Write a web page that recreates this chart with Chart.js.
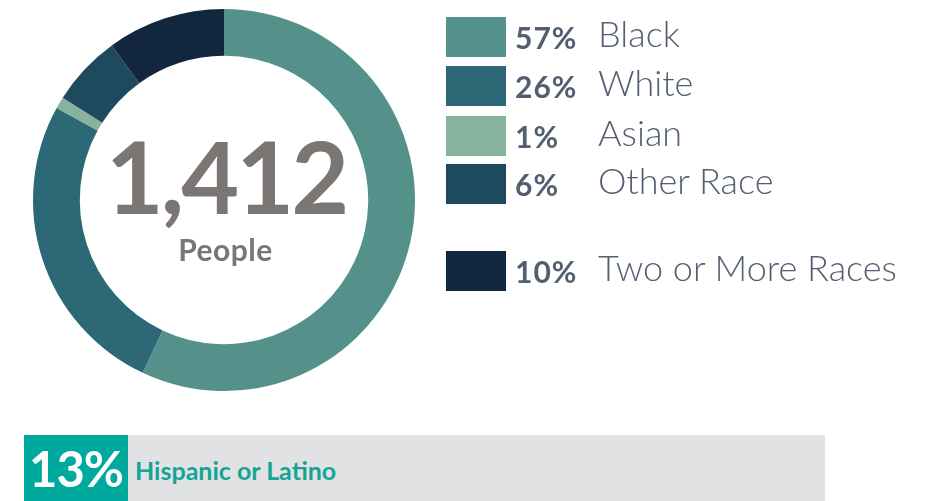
<!DOCTYPE html>
<html>
<head>
<meta charset="utf-8">
<script src="https://cdn.jsdelivr.net/npm/chart.js@4.4.0/dist/chart.umd.min.js"></script>
<style>
  html, body { margin: 0; padding: 0; background: #fff; }
  body { width: 934px; height: 501px; position: relative; overflow: hidden; font-family: Lato, "Open Sans", sans-serif; }
  #chart-wrap { position: absolute; left: 0; top: 0; width: 448px; height: 400px; }
  #center-total { position: absolute; left: 2px; width: 448px; top: 125px; text-align: center; font-size: 100px; font-weight: 700; color: #7b7673; line-height: 1; letter-spacing: -3px; }
  #center-label { position: absolute; left: 0; width: 451px; top: 234px; text-align: center; font-size: 30px; font-weight: 700; color: #7b7673; line-height: 1; letter-spacing: 0.5px; }
  .leg-row { position: absolute; left: 446px; height: 40px; }
  .leg-box { position: absolute; left: 0; top: 0; width: 60px; height: 40px; }
  .leg-pct { position: absolute; left: 69px; top: 5px; font-size: 30px; font-weight: 700; color: #545e71; line-height: 1; letter-spacing: 1px; }
  .leg-name { position: absolute; left: 152px; top: -2px; font-size: 36px; font-weight: 300; color: #545e71; line-height: 1; white-space: nowrap; }
  #hisp { position: absolute; left: 24px; top: 435px; width: 801px; height: 66px; background: #e1e2e4; }
  #hisp-pct { position: absolute; left: 0; top: 0; width: 104px; height: 66px; background: #00a99d; color: #fff; font-size: 49px; font-weight: 700; line-height: 66px; text-align: center; letter-spacing: -1px; }
  #hisp-label { position: absolute; left: 111px; top: 2px; line-height: 66px; font-size: 25px; font-weight: 700; color: #15a397; }
</style>
</head>
<body>
<div id="chart-wrap"><canvas id="race-chart"></canvas></div>
<div id="center-total"></div>
<div id="center-label"></div>
<div id="legend"></div>
<div id="hisp"><div id="hisp-pct"></div><div id="hisp-label"></div></div>

<script>
const categories = ['Black', 'White', 'Asian', 'Other Race', 'Two or More Races'];
const percents = [57, 26, 1, 6, 10];
const colors = ['#53918a', '#2d6876', '#87b29d', '#1f495e', '#12263e'];
const totalPeople = '1,412';
const totalLabel = 'People';
const hispanicPct = 13;
const hispanicLabel = 'Hispanic or Latino';

// legend row tops (gap before the last row as in the original)
const legendTops = [17, 66, 116, 164, 251];

document.getElementById('center-total').textContent = totalPeople;
document.getElementById('center-label').textContent = totalLabel;
document.getElementById('hisp-pct').textContent = hispanicPct + '%';
document.getElementById('hisp-label').textContent = hispanicLabel;

const legend = document.getElementById('legend');
categories.forEach((name, i) => {
    const row = document.createElement('div');
    row.className = 'leg-row';
    row.style.top = legendTops[i] + 'px';
    row.innerHTML = '<div class="leg-box" style="background:' + colors[i] + '"></div>' +
        '<div class="leg-pct">' + percents[i] + '%</div>' +
        '<div class="leg-name">' + name + '</div>';
    legend.appendChild(row);
});

new Chart(document.getElementById('race-chart'), {
    type: 'doughnut',
    data: {
        labels: categories,
        datasets: [{
            data: percents,
            backgroundColor: colors,
            borderWidth: 0
        }]
    },
    options: {
        responsive: true,
        maintainAspectRatio: false,
        animation: false,
        cutout: '75.5%',
        layout: { padding: 9 },
        plugins: {
            legend: { display: false },
            tooltip: { enabled: false }
        }
    }
});
</script>
</body>
</html>
